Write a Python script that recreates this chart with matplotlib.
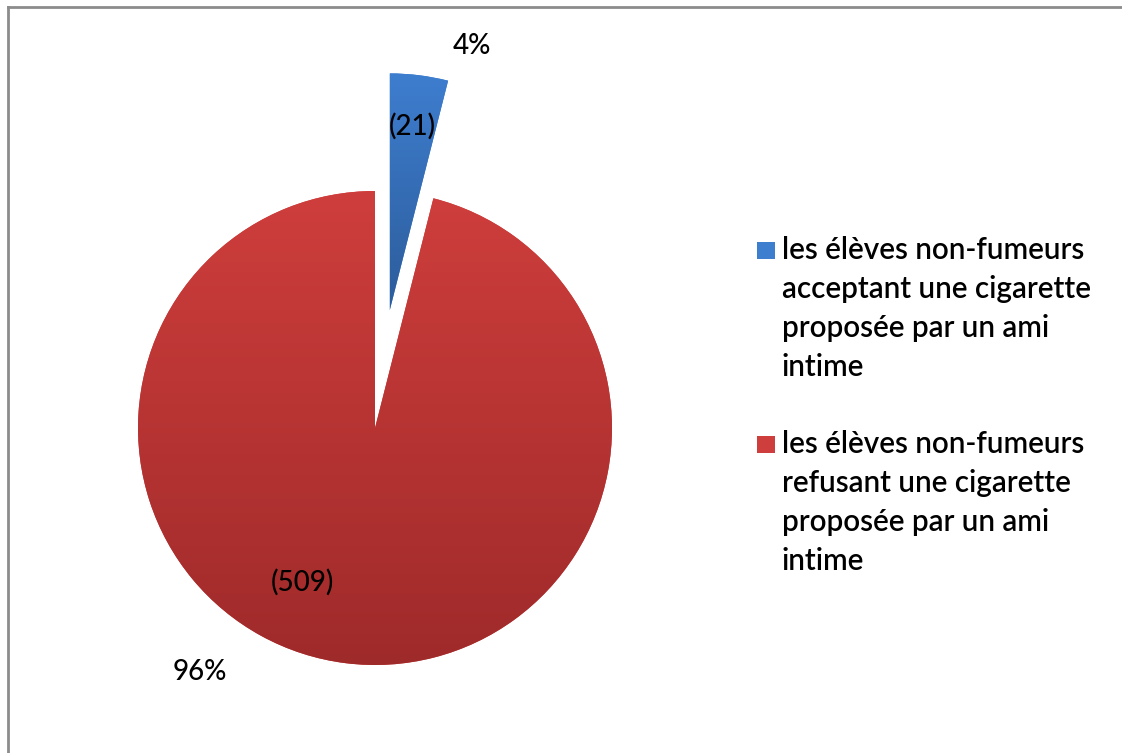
import numpy as np
import matplotlib
matplotlib.use("Agg")
import matplotlib.pyplot as plt
from matplotlib.patches import Rectangle
from matplotlib.lines import Line2D
from matplotlib.colors import LinearSegmentedColormap

plt.rcParams['font.family'] = ['Lato', 'DejaVu Sans']

# Data
categories = ["les élèves non-fumeurs\nacceptant une cigarette\nproposée par un ami\nintime",
              "les élèves non-fumeurs\nrefusant une cigarette\nproposée par un ami\nintime"]
counts = [21, 509]
pct_labels = ["4%", "96%"]
count_labels = ["(21)", "(509)"]

# colours (top, bottom of the gradient)
grad_colors = [("#3e7ecf", "#2c5c9b"), ("#ce3e3c", "#9f2a2a")]

W, H = 1122, 753
fig = plt.figure(figsize=(W / 100, H / 100), dpi=100)
ax = fig.add_axes([0, 0, 1, 1])

R = 237
cx, cy = 375, H - 428
wedges, _ = ax.pie(counts, startangle=90, counterclock=False, radius=R,
                   center=(cx, cy), explode=[0.5 * R, 0],
                   colors=[c[0] for c in grad_colors],
                   wedgeprops=dict(linewidth=0))

# vertical gradient fill clipped to each wedge
for w, (top, bot) in zip(wedges, grad_colors):
    bb = w.get_path().get_extents(w.get_patch_transform())
    cmap = LinearSegmentedColormap.from_list("g", [bot, top])
    grad = np.linspace(0, 1, 256).reshape(-1, 1)
    im = ax.imshow(grad, cmap=cmap, origin="lower", aspect="auto",
                   extent=(bb.x0, bb.x1, bb.y0, bb.y1), zorder=2)
    im.set_clip_path(w)

ax.set_xlim(0, W)
ax.set_ylim(0, H)
ax.set_aspect("auto")
ax.axis("off")

# labels
fs_lab = 20
kw = dict(ha="center", va="center", fontsize=fs_lab, zorder=5, fontweight="medium")
ax.text(412, H - 126, count_labels[0], **kw)
ax.text(472, H - 46, pct_labels[0], **kw)
ax.text(302, H - 582, count_labels[1], **kw)
ax.text(200, H - 672, pct_labels[1], **kw)

# legend
fs_leg = 21.3
for i, (lab, (top, bot)) in enumerate(zip(categories, grad_colors)):
    y0 = 242 + i * 194
    ax.add_patch(Rectangle((757, H - y0 - 17), 18, 17, facecolor=top, edgecolor="none"))
    ax.text(782, H - y0 + 6, lab, ha="left", va="top", fontsize=fs_leg,
            linespacing=1.48, fontweight="semibold")

# frame (top and left)
fig.add_artist(Line2D([8 / W, 1], [1 - 7 / H, 1 - 7 / H], color="#8c8c8c", lw=2))
fig.add_artist(Line2D([8 / W, 8 / W], [0, 1 - 7 / H], color="#8c8c8c", lw=2))

fig.savefig("out.png", dpi=100)
